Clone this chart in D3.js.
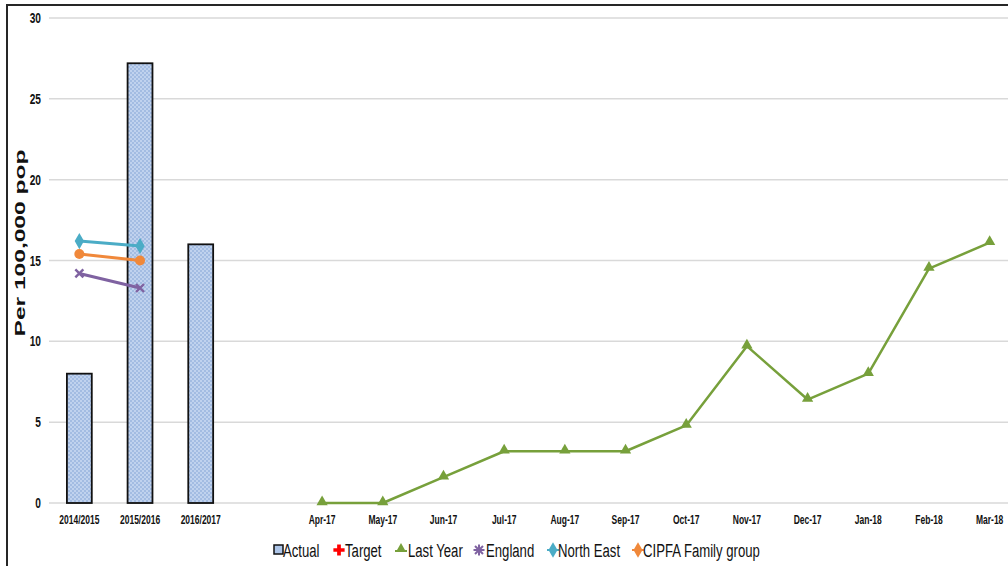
<!DOCTYPE html>
<html>
<head>
<meta charset="utf-8">
<script src="https://cdn.jsdelivr.net/npm/d3@7"></script>
<style>
html,body{margin:0;padding:0;background:#fff;}
svg{display:block;}
text{font-family:"Liberation Sans",Arial,sans-serif;}
</style>
</head>
<body>
<svg id="chart" width="1008" height="566"></svg>
<script>
// ---- data ----
const categories = ["2014/2015","2015/2016","2016/2017"," ","Apr-17","May-17","Jun-17","Jul-17","Aug-17","Sep-17","Oct-17","Nov-17","Dec-17","Jan-18","Feb-18","Mar-18"];
const yearLabels = ["2014/2015","2015/2016","2016/2017"];
const actualValues = [8.0, 27.2, 16.0];
const monthLabels = ["Apr-17","May-17","Jun-17","Jul-17","Aug-17","Sep-17","Oct-17","Nov-17","Dec-17","Jan-18","Feb-18","Mar-18"];
const lastYearValues = [0, 0, 1.6, 3.2, 3.2, 3.2, 4.8, 9.7, 6.4, 8.0, 14.5, 16.1];
const compareLabels = ["2014/2015","2015/2016"];
const englandValues = [14.2, 13.3];
const northEastValues = [16.2, 15.9];
const cipfaValues = [15.4, 15.0];
const targetValues = [];
const yTicks = [0, 5, 10, 15, 20, 25, 30];
const legendNames = ["Actual","Target","Last Year","England","North East","CIPFA Family group"];

// ---- setup ----
const svg = d3.select("#chart");
const W = 1008, H = 566;
const colors = {actual:"#adc5e8", target:"#ff0000", last:"#77a03b", england:"#7f62a1", ne:"#4bacc6", cipfa:"#f0883a"};

const x = d3.scaleBand().domain(categories).range([49, 1020]).paddingInner(0).paddingOuter(0);
const y = d3.scaleLinear().domain([0, 30]).range([503, 18]);
const cx = c => x(c) + x.bandwidth() / 2;

function condense(sel, s) {
  sel.each(function() {
    const w = this.getComputedTextLength();
    d3.select(this).attr("textLength", w * s).attr("lengthAdjust", "spacingAndGlyphs");
  });
}

// pattern
const defs = svg.append("defs");
const pat = defs.append("pattern").attr("id","chk").attr("patternUnits","userSpaceOnUse").attr("width",4).attr("height",4);
pat.append("rect").attr("width",4).attr("height",4).attr("fill","#a3bce2");
pat.append("rect").attr("width",2).attr("height",2).attr("fill","#c0d2ee");
pat.append("rect").attr("x",2).attr("y",2).attr("width",2).attr("height",2).attr("fill","#c0d2ee");

// frame
svg.append("path").attr("d", `M7,${H} V5 H${W}`).attr("fill","none").attr("stroke","#262626").attr("stroke-width",2);

// gridlines
svg.append("g").selectAll("line").data(yTicks).join("line")
  .attr("x1", 49).attr("x2", W).attr("y1", d => y(d)).attr("y2", d => y(d))
  .attr("stroke", "#d9d9d9").attr("stroke-width", 1.5);

// y axis
const ySx = 0.7;
const yAxis = d3.axisLeft(y).tickValues(yTicks).tickSize(0).tickPadding(8).tickFormat(d3.format("d"));
const gy = svg.append("g").attr("transform","translate(49,0)").call(yAxis);
gy.select(".domain").remove();
gy.selectAll("text").attr("font-family","Liberation Sans, Arial, sans-serif").attr("font-size",14.5).attr("font-weight","bold").attr("fill","#111")
  .attr("x", -8 / ySx).attr("transform", `scale(${ySx},1)`);

// x axis
const xSx = 0.63;
const xAxis = d3.axisBottom(x).tickSize(0).tickPadding(11);
const gx = svg.append("g").attr("transform","translate(0,503)").call(xAxis);
gx.select(".domain").remove();
gx.selectAll("text").attr("font-family","Liberation Sans, Arial, sans-serif").attr("font-size",13.5).attr("font-weight","bold").attr("fill","#111")
  .attr("transform", `scale(${xSx},1)`);

// y label
svg.append("text").attr("transform","translate(25,243) rotate(-90)")
  .attr("text-anchor","middle")
  .attr("font-weight","bold").attr("font-size",14).attr("fill","#111")
  .attr("textLength",187).attr("lengthAdjust","spacingAndGlyphs")
  .text("Per 100,000 pop");

// bars
const bw = x.bandwidth() * 0.41;
svg.append("g").selectAll("rect").data(yearLabels).join("rect")
  .attr("x", (d) => cx(d) - bw/2).attr("width", bw)
  .attr("y", (d,i) => y(actualValues[i])).attr("height", (d,i) => y(0) - y(actualValues[i]))
  .attr("fill","url(#chk)").attr("stroke","#111").attr("stroke-width",1.8);

// comparison lines
function lineSeries(labels, vals, color, width) {
  const pts = labels.map((l,i) => [cx(l), y(vals[i])]);
  svg.append("path").attr("d", d3.line()(pts)).attr("fill","none").attr("stroke",color).attr("stroke-width",width).attr("stroke-linejoin","round");
  return pts;
}
const enPts = lineSeries(compareLabels, englandValues, colors.england, 3);
const cpPts = lineSeries(compareLabels, cipfaValues, colors.cipfa, 3);
const nePts = lineSeries(compareLabels, northEastValues, colors.ne, 3);
const lyPts = lineSeries(monthLabels, lastYearValues, colors.last, 2.5);

const sym = (type, size) => d3.symbol().type(type).size(size)();
// markers
svg.append("g").selectAll("path").data(nePts).join("path")
  .attr("transform", d => `translate(${d[0]},${d[1]})`).attr("d", sym(d3.symbolDiamond, 75)).attr("fill", colors.ne);
svg.append("g").selectAll("circle").data(cpPts).join("circle")
  .attr("cx", d => d[0]).attr("cy", d => d[1]).attr("r", 5).attr("fill", colors.cipfa);
svg.append("g").selectAll("path").data(enPts).join("path")
  .attr("transform", d => `translate(${d[0]},${d[1]})`).attr("d", "M-4,-4L4,4M-4,4L4,-4")
  .attr("stroke", colors.england).attr("stroke-width", 2.4);
svg.append("g").selectAll("path").data(lyPts).join("path")
  .attr("transform", d => `translate(${d[0]},${d[1]-1})`).attr("d", sym(d3.symbolTriangle, 55)).attr("fill", colors.last);

// legend
const legendX = [273, 333, 395, 473, 547, 632];
const legendTextX = [283, 345, 408, 486, 558, 643];
const lg = svg.append("g");
legendNames.forEach((name, i) => {
  const g = lg.append("g").attr("transform", `translate(${legendX[i]},550)`);
  if (i === 0) {
    g.append("rect").attr("x",1).attr("y",-5).attr("width",9).attr("height",9).attr("fill","#adc5e8").attr("stroke","#111").attr("stroke-width",1.5);
  } else if (i === 1) {
    g.append("path").attr("transform","translate(6,0)").attr("d", sym(d3.symbolCross, 70)).attr("fill", colors.target);
  } else if (i === 2) {
    g.append("line").attr("x1",0).attr("x2",12).attr("y1",1).attr("y2",1).attr("stroke",colors.last).attr("stroke-width",2);
    g.append("path").attr("transform","translate(6,-1)").attr("d", sym(d3.symbolTriangle, 45)).attr("fill", colors.last);
  } else if (i === 3) {
    g.append("path").attr("transform","translate(6,0)").attr("d","M-4,-4L4,4M-4,4L4,-4M0,-5.5V5.5M-5.5,0H5.5")
      .attr("stroke", colors.england).attr("stroke-width",2);
  } else if (i === 4) {
    g.append("path").attr("transform","translate(6,0)").attr("d", sym(d3.symbolDiamond, 70)).attr("fill", colors.ne);
    g.append("line").attr("x1",0).attr("x2",12).attr("y1",0).attr("y2",0).attr("stroke",colors.ne).attr("stroke-width",2);
  } else {
    g.append("path").attr("transform","translate(6,0)").attr("d", sym(d3.symbolDiamond, 70)).attr("fill", colors.cipfa);
    g.append("line").attr("x1",0).attr("x2",12).attr("y1",0).attr("y2",0).attr("stroke",colors.cipfa).attr("stroke-width",2);
  }
  const t = lg.append("text").attr("x", legendTextX[i]).attr("y", 556.5)
    .attr("font-size", 18).attr("fill","#111").text(name);
  condense(t, 0.73);
});
</script>
</body>
</html>
